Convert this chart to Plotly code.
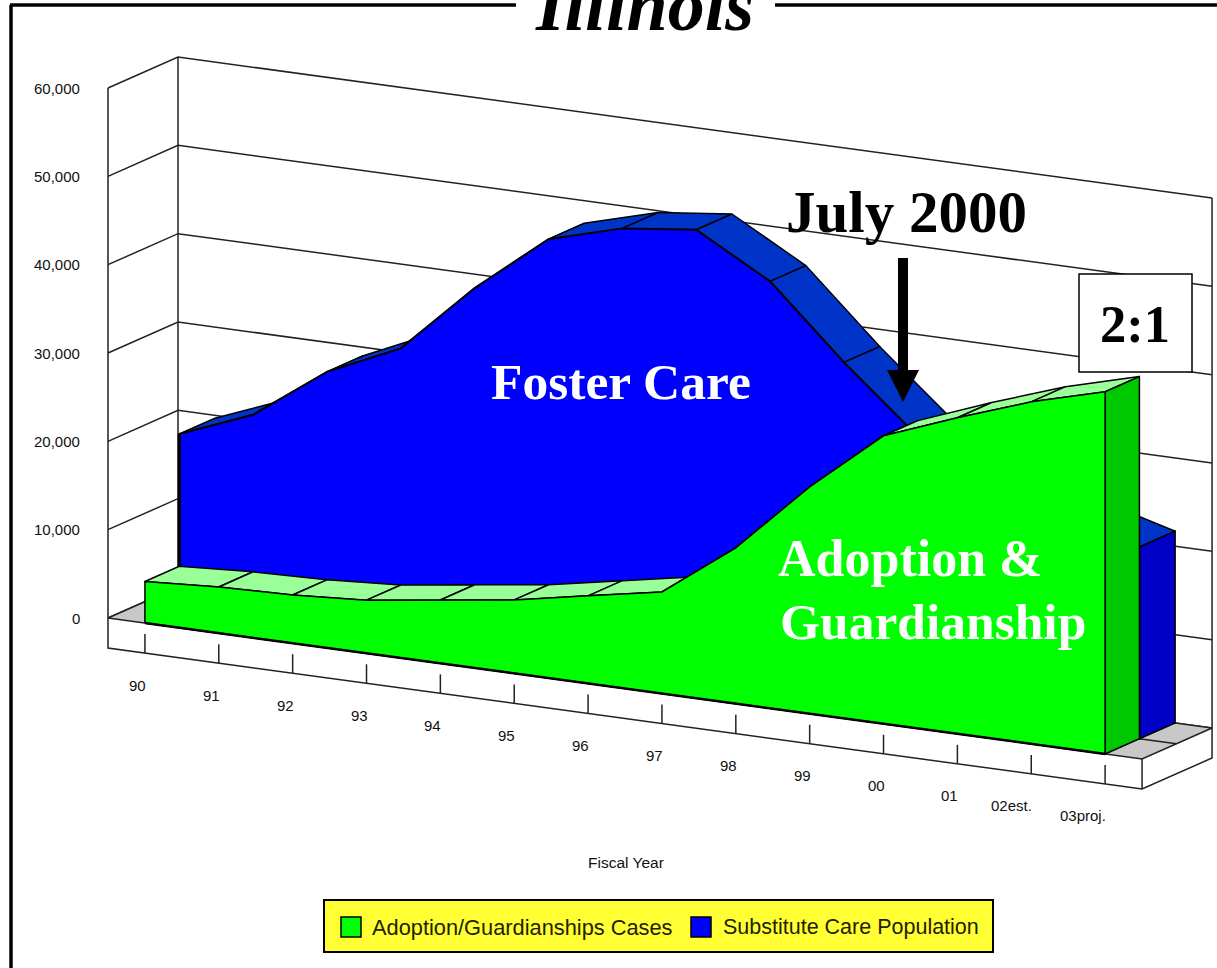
import plotly.graph_objects as go

# ---------- data ----------
fiscal_years = ["90", "91", "92", "93", "94", "95", "96", "97", "98", "99", "00", "01", "02est.", "03proj."]
adoption_cases = [4700, 5220, 5450, 6010, 7170, 8320, 9920, 11500, 17630, 25680, 32600, 35780, 38720, 41000]
substitute_care = [19680, 23000, 29000, 32800, 40760, 47440, 49800, 50780, 46080, 38050, 30800, 27000, 24000, 21700]
value_ticks = [0, 10000, 20000, 30000, 40000, 50000, 60000]
value_tick_labels = ["0", "10,000", "20,000", "30,000", "40,000", "50,000", "60,000"]
series_names = ["Adoption/Guardianships Cases", "Substitute Care Population"]

# ---------- oblique projection of (category, depth, value) onto the page ----------
ORIGIN_X, ORIGIN_Y = 108, 618
CAT_DX, CAT_DY = 73.86, 10.07
DEPTH_DX, DEPTH_DY = 70, -31
VALUE_PX = 88.33 / 10000
SLAB = -3400
N = len(fiscal_years)
BLACK = "#000000"
WALL = "#222222"


def px(c, d):
    return ORIGIN_X + CAT_DX * c + DEPTH_DX * d


def py(c, d, v):
    return ORIGIN_Y + CAT_DY * c + DEPTH_DY * d - v * VALUE_PX


fig = go.Figure()


def poly(pts, fill, line=BLACK, width=1.5):
    xs = [px(c, d) for c, d, v in pts] + [px(pts[0][0], pts[0][1])]
    ys = [py(c, d, v) for c, d, v in pts] + [py(*pts[0])]
    fig.add_trace(go.Scatter(x=xs, y=ys, mode="lines", fill="toself", fillcolor=fill,
                             line=dict(color=line, width=width), hoverinfo="skip", showlegend=False))


def seg(pts, color=WALL, width=1.5):
    fig.add_trace(go.Scatter(x=[px(c, d) for c, d, v in pts], y=[py(c, d, v) for c, d, v in pts],
                             mode="lines", line=dict(color=color, width=width),
                             hoverinfo="skip", showlegend=False))


def area(values, d0, d1, front, top, side, w=1.5):
    cats = [i + 0.5 for i in range(N)]
    # top faces, back to front
    for i in range(N - 1):
        poly([(cats[i], d0, values[i]), (cats[i], d1, values[i]),
              (cats[i + 1], d1, values[i + 1]), (cats[i + 1], d0, values[i + 1])], top)
    # right end face
    poly([(cats[-1], d0, 0), (cats[-1], d1, 0), (cats[-1], d1, values[-1]), (cats[-1], d0, values[-1])], side)
    # front face
    pts = [(cats[0], d0, 0)] + [(c, d0, v) for c, v in zip(cats, values)] + [(cats[-1], d0, 0)]
    poly(pts, front, width=w)


# page frame, broken by the title
frame = dict(color=BLACK, width=3.5)
fig.add_shape(type="line", x0=11, x1=11, y0=5, y1=968, line=frame)
fig.add_shape(type="line", x0=10, x1=516, y0=5, y1=5, line=frame)
fig.add_shape(type="line", x0=775, x1=1217, y0=5, y1=5, line=frame)

# walls and grid
top = value_ticks[-1]
for v in value_ticks:
    seg([(0, 0, v), (0, 1, v), (14, 1, v)])
seg([(0, 0, top), (0, 0, SLAB), (14, 0, SLAB), (14, 1, SLAB), (14, 1, top)])
seg([(0, 1, top), (0, 1, 0)])
seg([(14, 0, 0), (14, 0, SLAB)])

# floor
poly([(0, 0, 0), (14, 0, 0), (14, 1, 0), (0, 1, 0)], "#C8C8C8", WALL)
seg([(13.5, 0.49, 0), (14, 0.49, 0)], WALL)

# ticks under the floor edge
for i in range(N):
    seg([(i + 0.5, 0, SLAB), (i + 0.5, 0, -1250)], WALL)

# series
area(substitute_care, 0.49, 1.0, "#0000FF", "#0033C8", "#0000C8", w=2)
seg([(0.5, 0.49, 0), (0.5, 0.49, substitute_care[0])], BLACK, 3)
area(adoption_cases, 0.0, 0.49, "#00FF00", "#99FF99", "#00C800")
seg([(0.5, 0, 0), (N - 0.5, 0, 0)], BLACK, 2.5)

# text helper


def label(x, y, text, size, family="Liberation Sans", color=BLACK, bold=False, italic=False, anchor="center"):
    if bold:
        text = "<b>" + text + "</b>"
    if italic:
        text = "<i>" + text + "</i>"
    fig.add_annotation(x=x, y=y, text=text, showarrow=False, xanchor=anchor, yanchor="middle",
                       font=dict(family=family, size=size, color=color), borderpad=0, borderwidth=0)


# axis labels
for v, t in zip(value_ticks, value_tick_labels):
    label(80, py(0, 0, v), t, 15, color="#111111", anchor="right")
for i, t in enumerate(fiscal_years):
    label(px(i + 0.5, 0) + 1, py(i + 0.5, 0, SLAB) + 32, t, 15, color="#111111", anchor="right")
label(626, 862, "Fiscal Year", 15.5, color="#111111")

# title and callouts
SERIF = "Liberation Serif"
label(644, 5, "Illinois", 74, SERIF, bold=True, italic=True)
label(906, 212, "July 2000", 59, SERIF, bold=True)
label(620.5, 381, "Foster Care", 51.5, SERIF, color="#FFFFFF", bold=True)
label(910, 558, "Adoption &amp;", 52, SERIF, color="#FFFFFF", bold=True)
label(932.5, 621, "Guardianship", 51.5, SERIF, color="#FFFFFF", bold=True)

# July 2000 arrow
fig.add_shape(type="rect", x0=898, x1=908, y0=258, y1=372, fillcolor=BLACK, line=dict(width=0))
fig.add_shape(type="path", path="M 887 370 L 919 370 L 903 402 Z", fillcolor=BLACK, line=dict(width=0))

# 2:1 box
fig.add_shape(type="rect", x0=1079, x1=1192, y0=274, y1=372, fillcolor="#FFFFFF",
              line=dict(color=BLACK, width=1.5))
label(1135, 324, "2:1", 52.5, SERIF, bold=True)

# legend
fig.add_shape(type="rect", x0=324, x1=993, y0=900, y1=952, fillcolor="#FFFF33",
              line=dict(color=BLACK, width=2))
fig.add_shape(type="rect", x0=341, x1=361, y0=917, y1=937, fillcolor="#00FF00",
              line=dict(color=BLACK, width=1.5))
fig.add_shape(type="rect", x0=691, x1=711, y0=917, y1=937, fillcolor="#0000FF",
              line=dict(color=BLACK, width=1.5))
label(372, 927, series_names[0], 21.8, color="#222200", anchor="left")
label(723, 927, series_names[1], 21.5, color="#222200", anchor="left")

fig.update_layout(
    width=1217, height=968, margin=dict(l=0, r=0, t=0, b=0),
    paper_bgcolor="#FFFFFF", plot_bgcolor="#FFFFFF", showlegend=False,
    xaxis=dict(range=[0, 1217], visible=False, fixedrange=True),
    yaxis=dict(range=[968, 0], visible=False, fixedrange=True),
)
fig.write_html("out.html", config=dict(displayModeBar=False),
               post_script="document.body.style.margin='0';")
